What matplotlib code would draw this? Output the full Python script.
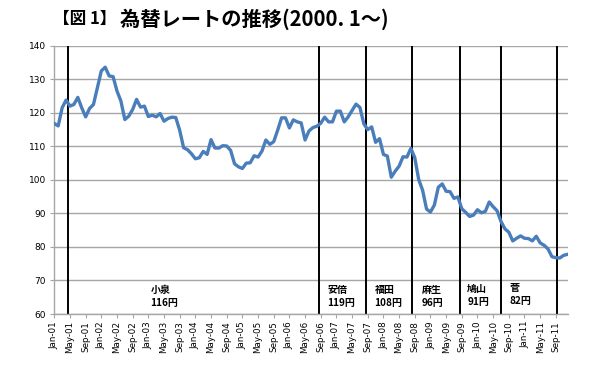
import matplotlib
matplotlib.use("Agg")
import matplotlib.pyplot as plt
import numpy as np

plt.rcParams['font.family'] = ['Noto Sans CJK JP', 'DejaVu Sans']

# Monthly USD/JPY, Jan-01 .. Dec-11
rates = [
    # 2001
    116.8, 116.1, 121.5, 123.8, 122.0, 122.5, 124.6, 121.5, 118.8, 121.3, 122.5, 127.5,
    # 2002
    132.5, 133.6, 131.0, 130.8, 126.5, 123.5, 118.0, 119.0, 121.0, 124.0, 121.7, 122.0,
    # 2003
    118.9, 119.3, 118.8, 119.8, 117.5, 118.3, 118.7, 118.6, 114.8, 109.6, 109.0, 107.8,
    # 2004
    106.3, 106.6, 108.5, 107.6, 112.0, 109.5, 109.5, 110.2, 110.1, 108.8, 104.8, 103.9,
    # 2005
    103.4, 105.0, 105.1, 107.2, 106.8, 108.6, 111.9, 110.6, 111.4, 114.8, 118.5, 118.5,
    # 2006
    115.5, 117.9, 117.3, 117.0, 111.9, 114.6, 115.6, 116.0, 116.9, 118.7, 117.3, 117.3,
    # 2007
    120.5, 120.5, 117.3, 118.8, 120.7, 122.6, 121.6, 116.7, 115.0, 115.8, 111.2, 112.3,
    # 2008
    107.6, 107.1, 100.8, 102.6, 104.1, 106.9, 106.8, 109.4, 106.6, 100.1, 96.9, 91.3,
    # 2009
    90.4, 92.5, 97.8, 98.8, 96.6, 96.5, 94.5, 94.9, 91.4, 90.3, 89.1, 89.5,
    # 2010
    91.1, 90.2, 90.6, 93.4, 92.0, 90.8, 87.6, 85.4, 84.4, 81.8, 82.6, 83.3,
    # 2011
    82.6, 82.5, 81.8, 83.2, 81.2, 80.5, 79.4, 77.1, 76.8, 76.7, 77.5, 77.8,
]
month_names = ['Jan', 'May', 'Sep']
years = list(range(1, 12))

# Prime minister changes (month index from Jan-01)
pm_names = ['小泉', '安倍', '福田', '麻生', '鳩山', '菅']
pm_avg = ['116円', '119円', '108円', '96円', '91円', '82円']
pm_change = [3.4, 67.5, 79.5, 91.4, 103.5, 114.0, 128.2]

# label layout
label_x = [24.5, 69.6, 81.7, 93.7, 105.4, 116.1]
label_y = [67.2, 67.2, 67.2, 67.2, 67.4, 67.8]

fig = plt.figure(figsize=(6.0, 3.66), dpi=100)
ax = fig.add_axes([0.0905, 0.142, 0.8555, 0.733])

x = np.arange(len(rates))
ax.plot(x, rates, color='#4A7EBB', lw=2.4, solid_joinstyle='round', zorder=3)

for xc in pm_change:
    ax.axvline(xc, color='black', lw=1.4, zorder=2)

for name, avg, lx, ly in zip(pm_names, pm_avg, label_x, label_y):
    ax.text(lx, ly, name, fontsize=7.2, fontweight='bold', ha='left', va='center')
    ax.text(lx, ly - 3.9, avg, fontsize=7.2, fontweight='bold', ha='left', va='center')

ax.set_xlim(0, len(rates) - 1)
ax.set_ylim(60, 140)
ax.set_yticks(np.arange(60, 141, 10))
ax.yaxis.grid(True, color='#A6A6A6', lw=1.0)
ax.set_axisbelow(True)

tick_pos = np.arange(0, len(rates), 4)
tick_labels = []
for p in tick_pos:
    yr = years[p // 12]
    tick_labels.append(f"{month_names[(p % 12) // 4]}-{yr:02d}")
ax.set_xticks(tick_pos)
ax.set_xticklabels(tick_labels, rotation=90, fontsize=6.3, family='DejaVu Sans')
for lab in ax.get_yticklabels():
    lab.set_family('DejaVu Sans')
ax.tick_params(axis='y', labelsize=6.5, length=3, color='#A6A6A6', pad=3)
ax.tick_params(axis='x', length=3, color='#A6A6A6', pad=2)

for s in ['top', 'right']:
    ax.spines[s].set_visible(False)
for s in ['left', 'bottom']:
    ax.spines[s].set_color('#A6A6A6')
    ax.spines[s].set_linewidth(1.0)

fig.text(0.088, 0.948, '【図 1】', fontsize=12, fontweight='bold', ha='left', va='center')
fig.text(0.200, 0.948, '為替レートの推移(2000. 1～)', fontsize=14.6, fontweight='bold',
         ha='left', va='center')

fig.savefig('out.png', dpi=100)
